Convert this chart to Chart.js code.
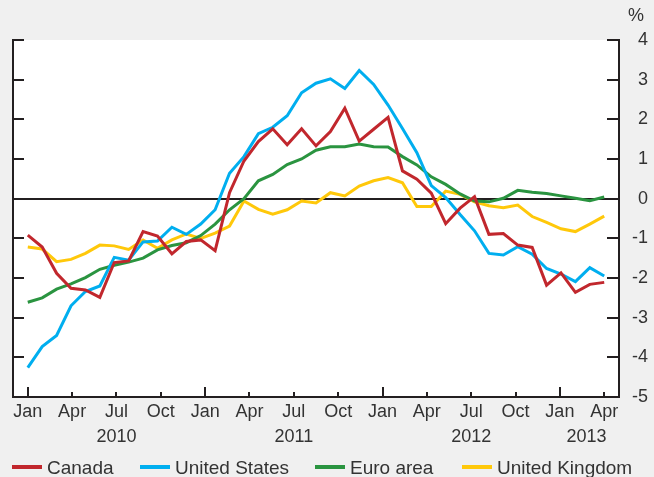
<!DOCTYPE html>
<html>
<head>
<meta charset="utf-8">
<script src="https://cdn.jsdelivr.net/npm/chart.js@4.4.1/dist/chart.umd.min.js"></script>
<style>
  html, body { margin: 0; padding: 0; background: #f0f0f0; overflow: hidden; }
  canvas { display: block; }
</style>
</head>
<body>
<canvas id="inflation-chart" width="654" height="477"></canvas>
<script>
// Year-over-year change, per cent; observations run evenly from Jan 2010 to Apr 2013
var canada = [-0.92, -1.22, -1.88, -2.26, -2.30, -2.49, -1.61, -1.57, -0.83, -0.94,
              -1.39, -1.08, -1.04, -1.31, 0.15, 0.95, 1.44, 1.76, 1.36, 1.76,
              1.33, 1.69, 2.28, 1.45, 1.75, 2.05, 0.70, 0.49, 0.14, -0.63,
              -0.24, 0.05, -0.90, -0.88, -1.17, -1.23, -2.18, -1.87, -2.36, -2.16, -2.11];
var unitedStates = [-4.26, -3.73, -3.45, -2.70, -2.34, -2.20, -1.48, -1.55, -1.09, -1.07,
                    -0.72, -0.90, -0.64, -0.28, 0.64, 1.06, 1.64, 1.80, 2.09, 2.67,
                    2.91, 3.02, 2.78, 3.23, 2.88, 2.36, 1.77, 1.16, 0.33, 0.03,
                    -0.40, -0.81, -1.38, -1.42, -1.21, -1.40, -1.76, -1.90, -2.09, -1.74, -1.95];
var euroArea = [-2.61, -2.50, -2.28, -2.15, -1.99, -1.78, -1.68, -1.60, -1.50, -1.29,
                -1.18, -1.11, -0.93, -0.64, -0.28, 0.00, 0.45, 0.61, 0.86, 1.00,
                1.22, 1.31, 1.31, 1.38, 1.31, 1.30, 1.06, 0.85, 0.55, 0.36,
                0.12, -0.06, -0.08, 0.01, 0.21, 0.16, 0.13, 0.07, 0.01, -0.05, 0.04];
var unitedKingdom = [-1.22, -1.27, -1.59, -1.53, -1.38, -1.17, -1.19, -1.28, -1.04, -1.25,
                     -1.04, -0.89, -1.00, -0.87, -0.69, -0.06, -0.27, -0.39, -0.28, -0.06,
                     -0.11, 0.15, 0.07, 0.32, 0.45, 0.53, 0.40, -0.20, -0.20, 0.19,
                     0.11, -0.08, -0.18, -0.23, -0.16, -0.45, -0.60, -0.76, -0.83, -0.64, -0.44];

// Axis labels (months counted from Jan 2010)
var quarterTicks = [0, 3, 6, 9, 12, 15, 18, 21, 24, 27, 30, 33, 36, 39];
var monthNames = ['Jan', 'Apr', 'Jul', 'Oct'];
var yearLabels = ['2010', '2011', '2012', '2013'];
var yearCentres = [6, 18, 30, 37.8];

var axisColour = '#231f20';
var textColour = '#333333';
var fontFamily = '"Liberation Sans", Arial, sans-serif';

// observations are spread over the Jan 2010 - Apr 2013 tick span
var spanMonths = 39;
var lastObs = canada.length - 1;

function points(values) {
    return values.map(function (v, i) { return { x: i, y: v }; });
}

function series(label, values, colour) {
    return {
        label: label,
        data: points(values),
        borderColor: colour,
        backgroundColor: colour,
        borderWidth: 3,
        pointRadius: 0,
        tension: 0,
        xAxisID: 'xObs',
        yAxisID: 'y'
    };
}

// White plot area, inward tick marks, years, % unit and the legend row
var decorations = {
    id: 'decorations',
    beforeDraw: function (chart) {
        var a = chart.chartArea, ctx = chart.ctx;
        ctx.save();
        ctx.fillStyle = '#ffffff';
        ctx.fillRect(a.left, a.top, a.right - a.left, a.bottom - a.top);
        ctx.restore();
    },
    afterDraw: function (chart) {
        var ctx = chart.ctx, a = chart.chartArea;
        var yScale = chart.scales.y2, xScale = chart.scales.x;
        ctx.save();
        ctx.strokeStyle = axisColour;
        ctx.lineWidth = 2;
        ctx.beginPath();
        yScale.ticks.forEach(function (t) {
            var py = Math.round(yScale.getPixelForValue(t.value));
            ctx.moveTo(a.left, py); ctx.lineTo(a.left + 11, py);
            ctx.moveTo(a.right, py); ctx.lineTo(a.right - 12, py);
        });
        xScale.ticks.forEach(function (t) {
            var px = Math.round(xScale.getPixelForValue(t.value));
            var len = t.value % 12 === 0 ? 10 : 5;
            ctx.moveTo(px, a.bottom); ctx.lineTo(px, a.bottom - len);
        });
        ctx.stroke();

        ctx.fillStyle = textColour;
        ctx.font = '18px ' + fontFamily;
        ctx.textAlign = 'center';
        ctx.textBaseline = 'middle';
        ctx.fillText('%', 636, 16);
        yearLabels.forEach(function (yr, i) {
            ctx.fillText(yr, xScale.getPixelForValue(yearCentres[i]), 437);
        });

        // legend
        var itemX = [12, 140, 315, 462];
        ctx.font = '19px ' + fontFamily;
        ctx.textAlign = 'left';
        chart.data.datasets.forEach(function (ds, i) {
            ctx.strokeStyle = ds.borderColor;
            ctx.lineWidth = 4;
            ctx.beginPath();
            ctx.moveTo(itemX[i], 467);
            ctx.lineTo(itemX[i] + 30, 467);
            ctx.stroke();
            ctx.fillText(ds.label, itemX[i] + 35, 469);
        });
        ctx.restore();
    }
};

var ctx = document.getElementById('inflation-chart').getContext('2d');
var chart = new Chart(ctx, {
    type: 'line',
    data: {
        datasets: [
            series('Canada', canada, '#c1272d'),
            series('United States', unitedStates, '#00aeef'),
            series('Euro area', euroArea, '#2a9440'),
            series('United Kingdom', unitedKingdom, '#ffc80a')
        ]
    },
    options: {
        responsive: false,
        animation: false,
        layout: { padding: { left: 13, top: 40, right: 6, bottom: 0 } },
        plugins: {
            legend: { display: false },
            tooltip: { enabled: false }
        },
        scales: {
            xObs: {
                type: 'linear',
                display: false,
                min: -1 * lastObs / spanMonths,
                max: 40 * lastObs / spanMonths
            },
            x: {
                type: 'linear',
                position: 'bottom',
                min: -1,
                max: 40,
                afterBuildTicks: function (axis) {
                    axis.ticks = quarterTicks.map(function (v) { return { value: v }; });
                },
                afterFit: function (axis) { axis.height = 80; },
                grid: { display: false, drawTicks: false },
                border: { display: true, color: axisColour, width: 2 },
                ticks: {
                    autoSkip: false,
                    maxRotation: 0,
                    padding: 4,
                    color: textColour,
                    font: { family: fontFamily, size: 18 },
                    callback: function (value) { return monthNames[(value / 3) % 4]; }
                }
            },
            y: {
                position: 'left',
                min: -5,
                max: 4,
                afterFit: function (axis) { axis.width = 0; },
                ticks: { display: false, stepSize: 1 },
                grid: {
                    drawTicks: false,
                    lineWidth: 2,
                    color: function (c) { return c.tick && c.tick.value === 0 ? axisColour : 'rgba(0,0,0,0)'; }
                },
                border: { display: true, color: axisColour, width: 2 }
            },
            y2: {
                position: 'right',
                min: -5,
                max: 4,
                afterFit: function (axis) { axis.width = 29; },
                grid: { display: false, drawTicks: false },
                border: { display: true, color: axisColour, width: 2 },
                ticks: {
                    stepSize: 1,
                    crossAlign: 'far',
                    padding: 6,
                    color: textColour,
                    font: { family: fontFamily, size: 18 }
                }
            }
        }
    },
    plugins: [decorations]
});
</script>
</body>
</html>
